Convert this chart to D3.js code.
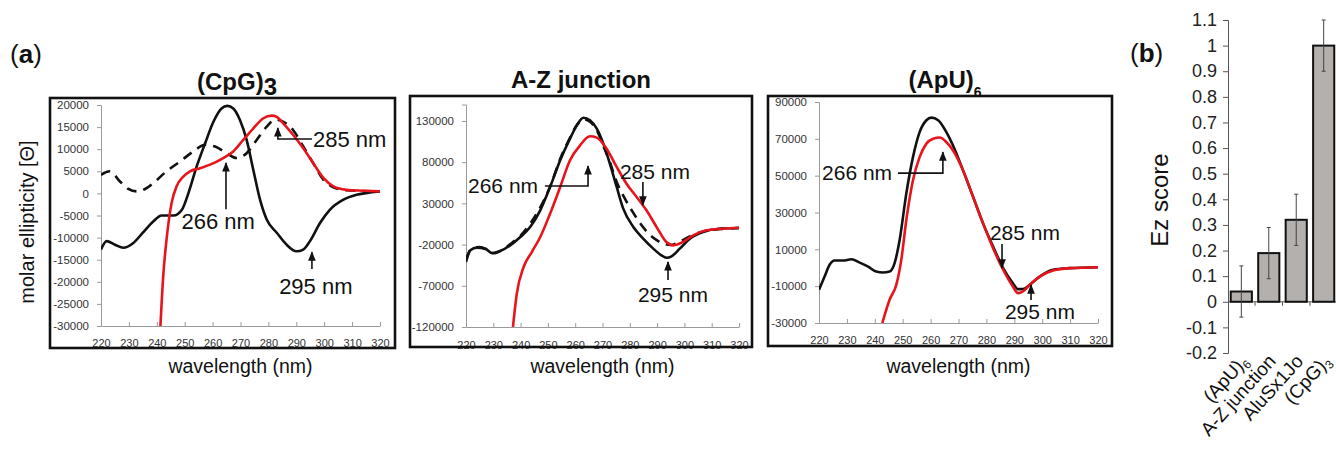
<!DOCTYPE html>
<html><head><meta charset="utf-8">
<script src="https://cdn.jsdelivr.net/npm/d3@7"></script>
<style>body{margin:0;background:#fff} text{font-family:Arial,"Liberation Sans",sans-serif}</style>
</head><body><svg id="c" width="1336" height="452"></svg>
<script>
// ---------------- DATA ----------------
const wavelengthTicks = [220,230,240,250,260,270,280,290,300,310,320];
const cpgYTicks = [-30000,-25000,-20000,-15000,-10000,-5000,0,5000,10000,15000,20000];
const azYTicks = [-120000,-70000,-20000,30000,80000,130000];
const apuYTicks = [-30000,-10000,10000,30000,50000,70000,90000];

// (CpG)3 spectra [wavelength nm, molar ellipticity]
const cpgSolid = [[220,-12700],[222,-10800],[225,-11600],[228,-12300],[231.6,-11200],[235,-8900],[238.8,-6300],[241.7,-5000],[246,-5000],[249,-3700],[251.3,0],[254.3,6100],[257.3,11300],[260.3,16200],[263.2,19200],[265.3,19800],[267.4,19200],[269.8,16600],[272.2,12100],[274.6,5300],[277,-1400],[279.4,-5900],[283,-8900],[286.5,-11600],[290.1,-13100],[292.5,-12700],[294.9,-10800],[298.5,-6700],[302,-3700],[306.9,-1400],[311.6,-300],[316.4,200],[320,450]];
const cpgRed = [[241.3,-30000],[242.3,-18700],[243.5,-10400],[245.3,-2200],[247.1,1600],[249.5,3800],[251.9,5000],[255.5,5700],[259.1,6500],[263.8,8000],[267.4,9500],[271,12100],[274.6,14700],[278.2,17000],[281.2,17600],[283,17300],[285.4,15800],[288.9,13200],[292.5,10200],[296.1,6800],[299.7,3500],[303.3,1600],[308,800],[314,600],[320,450]];
const cpgDashed = [[220,4200],[223.2,5000],[226.8,2700],[229.8,1000],[232.8,450],[235.8,1000],[239.4,2700],[243.5,5000],[248.3,7200],[253.1,9500],[257.3,11000],[260.9,10600],[265.1,9100],[268.6,8000],[272.2,9100],[275.8,12100],[279.4,15100],[282.4,16700],[285.4,16200],[288.9,14300],[292.5,10600],[296.1,6800],[299.7,3100],[303.3,1400],[308,700],[320,450]];

// A-Z junction spectra
const azSolid = [[220,-41100],[221.6,-27000],[224,-23700],[227,-24900],[229.5,-30200],[232.5,-27800],[236.2,-20900],[239.9,-10800],[243.5,1400],[247.2,21600],[250.8,49900],[254.5,82300],[258.1,108600],[260.6,124700],[263,134000],[265.4,130800],[267.9,120700],[270.3,102500],[272.7,78200],[275.2,49900],[277.6,23600],[281.3,1400],[284.9,-12800],[288.6,-24900],[291.6,-33000],[293.4,-35900],[295.3,-34200],[298.3,-24900],[302,-12800],[306.8,-4700],[312.9,-700],[320,100]];
const azRed = [[237.2,-120000],[238.6,-79600],[241.1,-47200],[244.1,-29000],[247.2,-10800],[250.8,17500],[254.5,49900],[258.1,82300],[261.8,100500],[265.4,111400],[267.9,109800],[271.5,96400],[275.2,74200],[278.8,53900],[282.5,37800],[286.1,21600],[289.8,1400],[293.4,-16900],[295.9,-20900],[299.5,-16900],[303.2,-8800],[308.1,-2700],[314.2,-700],[320,500]];
const azDashed = [[220,-38000],[222,-25000],[225,-23000],[228,-27000],[230,-30500],[233,-27000],[236,-20000],[240,-9000],[243,3000],[247,24000],[251,52000],[254.5,84000],[258,109000],[260.6,125000],[263,132000],[265.4,129000],[268,118000],[270.3,100000],[272.7,80000],[275.2,56000],[278,37000],[281,20000],[284,5000],[287,-7000],[290,-15000],[293,-19500],[295,-20500],[298,-17000],[302,-10000],[307,-4000],[313,-1000],[320,200]];

// (ApU)6 spectra
const apuSolid = [[220,-12000],[222,-4800],[223.8,1600],[225.6,3900],[228.6,3900],[231.6,4600],[234.6,2800],[237.6,600],[240.5,-2100],[242.9,-2600],[245.3,-2100],[247.1,2500],[248.9,15100],[251.3,40400],[253.7,60200],[256.1,73800],[258.5,80100],[260.3,81500],[262.7,80100],[265.6,73800],[268,66500],[271.6,53000],[275.2,38600],[278.8,24100],[282.4,11500],[286,-200],[289.5,-8400],[291.3,-11600],[293.1,-11600],[295.5,-9300],[299.1,-4800],[303.9,-1100],[309.8,-200],[320,300]];
const apuRed = [[242.7,-30000],[245.3,-17400],[247.7,-9300],[249.5,4300],[251.3,25900],[253.7,47600],[256.1,60200],[258.5,67400],[260.9,70100],[263.3,70700],[265.6,68300],[268,63800],[271.6,53000],[275.2,38600],[278.8,24100],[282.4,10600],[286,-1100],[289.5,-10200],[291.3,-13800],[293.1,-12900],[295.5,-9300],[299.1,-4800],[303.9,-1500],[309.8,-200],[320,300]];

// Annotations: label, arrow path [from ... tip] in data units, text anchor point in data units
const cpgNotes = [
  {label:"285 nm", path:[[295.6,12300],[283.4,12300],[283.4,14800]], text:[296,12300], anchor:"start"},
  {label:"266 nm", path:[[264.8,-3600],[264.8,6900]], text:[262,-6300], anchor:"middle"},
  {label:"295 nm", path:[[295.6,-17100],[295.6,-13300]], text:[297,-21000], anchor:"middle"}];
const azNotes = [
  {label:"266 nm", path:[[248.9,51100],[264.7,51100],[264.7,75400]], text:[246.4,52000], anchor:"end"},
  {label:"285 nm", path:[[284.8,56000],[284.8,28100]], text:[289.2,69300], anchor:"middle"},
  {label:"295 nm", path:[[294,-63000],[294,-41100]], text:[295.8,-80000], anchor:"middle"}];
const apuNotes = [
  {label:"266 nm", path:[[248.3,51400],[264.4,51400],[264.4,62800]], text:[246.2,52000], anchor:"end"},
  {label:"285 nm", path:[[285.6,12900],[285.6,-140]], text:[293.8,19400], anchor:"middle"},
  {label:"295 nm", path:[[296,-17500],[296,-9400]], text:[299.2,-23500], anchor:"middle"}];

// Panel (b)
const ezCategories = [["(ApU)","6"],["A-Z junction",""],["AluSx1Jo",""],["(CpG)","3"]];
const ezScores = [0.04,0.19,0.32,1.0];
const ezErrors = [0.10,0.10,0.10,0.10];
const ezTicks = [-0.2,-0.1,0,0.1,0.2,0.3,0.4,0.5,0.6,0.7,0.8,0.9,1,1.1];

// ---------------- DRAWING ----------------
const svg = d3.select("#c");
svg.append("rect").attr("width",1336).attr("height",452).attr("fill","#fff");
const defs = svg.append("defs");
defs.append("marker").attr("id","arr").attr("viewBox","0 0 10 10").attr("refX",9).attr("refY",5)
  .attr("markerWidth",6).attr("markerHeight",6).attr("orient","auto-start-reverse")
  .append("path").attr("d","M0,1 L10,5 L0,9 Z").attr("fill","#111");

const panels = [
  {id:"p1", frame:[50,98,395,348], xr:[101,380], yr:[326,105], yd:[-30000,20000], yt:cpgYTicks,
   series:[cpgDashed,cpgSolid,cpgRed], notes:cpgNotes, noteSize:22, title:["(CpG)","3"], titleX:237, subBig:true, xLabelY:343, xTitleY:373},
  {id:"p2", frame:[410,96,752,347], xr:[466,739], yr:[327,104.5], yd:[-120000,150000], yt:azYTicks,
   series:[azDashed,azSolid,azRed], notes:azNotes, noteSize:21, title:["A-Z junction",""], titleX:581, xLabelY:345, xTitleY:373},
  {id:"p3", frame:[768,96,1112,346], xr:[819,1098], yr:[323,102], yd:[-30000,90000], yt:apuYTicks,
   series:[null,apuSolid,apuRed], notes:apuNotes, noteSize:21, title:["(ApU)","6"], titleX:945, subBig:false, xLabelY:340, xTitleY:373}
];
const styles = [
  {stroke:"#111", dash:"10,7"},
  {stroke:"#111", dash:null},
  {stroke:"#e8141c", dash:null}
];

panels.forEach(p => {
  const g = svg.append("g");
  const [fx0,fy0,fx1,fy1] = p.frame;
  const x = d3.scaleLinear().domain([220,320]).range(p.xr);
  const y = d3.scaleLinear().domain(p.yd).range(p.yr);

  const ya = g.append("g").attr("transform",`translate(${p.xr[0]},0)`)
    .call(d3.axisLeft(y).tickValues(p.yt).tickSize(4).tickPadding(8).tickFormat(d=>String(d)));
  ya.select(".domain").attr("stroke","#9a9a9a");
  ya.selectAll(".tick line").attr("stroke","#9a9a9a");
  ya.selectAll("text").attr("font-size",11.5).attr("fill","#333").style("font-family","Arial,'Liberation Sans',sans-serif");

  const xa = g.append("g").attr("transform",`translate(0,${p.yr[0]})`)
    .call(d3.axisBottom(x).tickValues(wavelengthTicks).tickSize(-4).tickSizeOuter(0).tickFormat(d=>String(d)));
  xa.select(".domain").attr("stroke","#9a9a9a");
  xa.selectAll(".tick line").attr("stroke","#9a9a9a");
  xa.selectAll("text").attr("font-size",11).attr("fill","#333").attr("y",p.xLabelY-p.yr[0]).attr("dy","0.35em")
    .style("font-family","Arial,'Liberation Sans',sans-serif");

  const cid = "clip_"+p.id;
  defs.append("clipPath").attr("id",cid).append("rect")
    .attr("x",p.xr[0]).attr("y",p.yr[1]-10).attr("width",p.xr[1]-p.xr[0]+2).attr("height",p.yr[0]-p.yr[1]+10);

  const line = d3.line().x(d=>x(d[0])).y(d=>y(d[1])).curve(d3.curveMonotoneX);
  p.series.forEach((s,i) => {
    if(!s) return;
    g.append("path").datum(s).attr("d",line).attr("fill","none")
      .attr("stroke",styles[i].stroke).attr("stroke-width",2.6)
      .attr("stroke-dasharray",styles[i].dash).attr("stroke-linejoin","round")
      .attr("clip-path",`url(#${cid})`);
  });

  p.notes.forEach(n => {
    g.append("path").attr("d", d3.line().x(d=>x(d[0])).y(d=>y(d[1])).curve(d3.curveLinear)(n.path))
      .attr("fill","none").attr("stroke","#111").attr("stroke-width",1.6).attr("marker-end","url(#arr)");
    g.append("text").attr("x",x(n.text[0])).attr("y",y(n.text[1])).attr("dy","0.36em")
      .attr("text-anchor",n.anchor).attr("font-size",p.noteSize).attr("fill","#111").text(n.label);
  });

  g.append("rect").attr("x",fx0).attr("y",fy0).attr("width",fx1-fx0).attr("height",fy1-fy0)
    .attr("fill","none").attr("stroke","#111").attr("stroke-width",2.6);

  const t = g.append("text").attr("x",p.titleX).attr("y",fy0-8).attr("text-anchor","middle")
    .attr("font-size",24).attr("font-weight","bold").attr("fill","#111");
  t.append("tspan").text(p.title[0]);
  if(p.title[1]){
    if(p.subBig) t.append("tspan").attr("dy",5).text(p.title[1]);
    else t.append("tspan").attr("dy",9).attr("font-size",14).text(p.title[1]);
  }

  g.append("text").attr("x",(p.xr[0]+p.xr[1])/2).attr("y",p.xTitleY).attr("text-anchor","middle")
    .attr("font-size",19.5).attr("fill","#111").text("wavelength (nm)");
});

svg.append("text").attr("transform","translate(34,222) rotate(-90)").attr("text-anchor","middle")
  .attr("font-size",20).attr("fill","#111").text("molar ellipticity [\u0398]");

const la = svg.append("text").attr("x",10).attr("y",63).attr("font-size",26).attr("fill","#111");
la.append("tspan").text("(");
la.append("tspan").attr("font-weight","bold").text("a");
la.append("tspan").text(")");

// ---------------- PANEL (b) ----------------
const gb = svg.append("g");
const yb = d3.scaleLinear().domain([-0.2,1.1]).range([353,20]);
const keys = ezCategories.map(c=>c[0]+c[1]);
const xb = d3.scaleBand().domain(keys).range([1228,1337]).paddingInner(0.23).paddingOuter(0.1);

const yba = gb.append("g").attr("transform","translate(1228,0)")
  .call(d3.axisLeft(yb).tickValues(ezTicks).tickSize(5).tickPadding(6).tickFormat(d=>String(+d.toFixed(1))));
yba.select(".domain").attr("stroke","#555");
yba.selectAll(".tick line").attr("stroke","#555");
yba.selectAll("text").attr("font-size",18).attr("fill","#222").style("font-family","Arial,'Liberation Sans',sans-serif");

gb.append("line").attr("x1",1228).attr("x2",1336).attr("y1",yb(0)).attr("y2",yb(0)).attr("stroke","#555");
const step = xb.step();
keys.forEach((k,i) => {
  if(i===0) return;
  const bx = xb(k) - step*xb.paddingInner()/2;
  gb.append("line").attr("x1",bx).attr("x2",bx).attr("y1",yb(0)).attr("y2",yb(0)+4).attr("stroke","#555");
});

gb.selectAll("rect.bar").data(ezScores).join("rect").attr("class","bar")
  .attr("x",(d,i)=>xb(keys[i])).attr("width",xb.bandwidth())
  .attr("y",d=>yb(Math.max(0,d))).attr("height",d=>Math.abs(yb(d)-yb(0)))
  .attr("fill","#b3b0ad").attr("stroke","#111").attr("stroke-width",2);

ezScores.forEach((d,i) => {
  const cx = xb(keys[i]) + xb.bandwidth()/2;
  const e = ezErrors[i];
  gb.append("line").attr("x1",cx).attr("x2",cx).attr("y1",yb(d-e)).attr("y2",yb(d+e)).attr("stroke","#444").attr("stroke-width",1);
  [d-e,d+e].forEach(v => gb.append("line").attr("x1",cx-2).attr("x2",cx+2).attr("y1",yb(v)).attr("y2",yb(v)).attr("stroke","#444").attr("stroke-width",1));
});

ezCategories.forEach((c,i) => {
  const cx = xb(keys[i]) + xb.bandwidth()/2;
  const t = gb.append("text").attr("transform",`translate(${cx+8},362) rotate(-48)`).attr("text-anchor","end")
    .attr("font-size",19).attr("fill","#111");
  t.append("tspan").text(c[0]);
  if(c[1]) t.append("tspan").attr("dy",4).attr("font-size",12).text(c[1]);
});

svg.append("text").attr("transform","translate(1168,200) rotate(-90)").attr("text-anchor","middle")
  .attr("font-size",24).attr("fill","#111").text("Ez score");

const lb = svg.append("text").attr("x",1130).attr("y",62).attr("font-size",26).attr("fill","#111");
lb.append("tspan").text("(");
lb.append("tspan").attr("font-weight","bold").text("b");
lb.append("tspan").text(")");
</script></body></html>
